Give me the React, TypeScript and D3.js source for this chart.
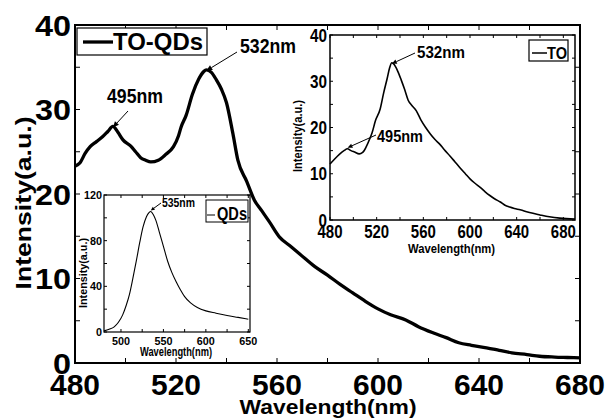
import React from "react";
import * as d3 from "d3";

// Main spectrum: TO-QDs
const mainWl = [480, 482, 484, 486, 488.5, 491, 493, 495, 497, 499, 502, 504, 506, 508, 510, 513, 516, 519, 521, 522, 524, 526.5, 529, 531, 532, 534, 536, 538, 540, 542.5, 544.5, 548, 551, 554, 557, 561, 565, 569, 575, 580, 585, 590, 595, 600, 605, 611, 616, 622, 627, 632, 637, 643, 648, 653, 659, 664, 670, 675, 680];
const mainVal = [23.3, 23.7, 24.8, 25.6, 26.2, 26.8, 27.4, 28.0, 27.3, 26.4, 25.7, 25.0, 24.3, 24.0, 23.8, 24.0, 24.7, 25.6, 26.9, 27.9, 29.3, 31.8, 33.6, 34.5, 34.7, 34.4, 33.5, 32.4, 30.8, 27.2, 24.0, 21.5, 19.3, 18.0, 16.7, 14.9, 13.9, 12.9, 11.4, 10.4, 9.3, 8.3, 7.3, 6.4, 5.7, 5.1, 4.3, 3.55, 3.0, 2.4, 2.1, 1.8, 1.5, 1.2, 1.0, 0.8, 0.7, 0.65, 0.6];

// Inset: TO
const toWl = [480, 484, 488, 492, 495, 498, 501, 505, 508, 511, 514, 516, 519, 523, 526, 529, 531, 533, 535, 538, 541, 544, 547, 550, 554, 558, 562, 566, 570, 574, 578, 583, 587, 591, 596, 600, 604, 609, 613, 617, 621, 626, 630, 634, 638, 643, 651, 660, 668, 677, 690];
const toVal = [12.1, 13.2, 14.2, 15.0, 15.4, 15.0, 14.7, 14.3, 14.6, 15.8, 17.5, 18.8, 21.5, 24.0, 27.5, 30.6, 32.8, 34.0, 33.6, 32.2, 30.3, 28.2, 25.9, 24.8, 23.6, 21.6, 20.0, 18.6, 17.4, 16.4, 15.2, 13.8, 12.6, 11.4, 10.0, 8.9, 8.0, 7.0, 6.1, 5.3, 4.6, 3.9, 3.2, 2.8, 2.5, 2.2, 1.6, 1.1, 0.7, 0.4, 0.2];

// Inset: QDs
const qdWl = [480, 486, 492, 497, 502, 506, 510, 514, 518, 522, 526, 530, 533, 535, 538, 541, 545, 550, 555, 560, 565, 570, 575, 582, 590, 600, 612, 625, 638, 650];
const qdVal = [1.0, 2.5, 4.5, 8.5, 15, 23, 33, 47, 62, 78, 92, 101, 104.5, 105.5, 103, 98, 88, 75, 62, 52, 44, 37, 31, 25.5, 21.5, 18.5, 16.5, 14.5, 12.8, 11.2];

const mainXTicks = [480, 520, 560, 600, 640, 680];
const mainYTicks = [0, 10, 20, 30, 40];
const toXTicks = [480, 520, 560, 600, 640, 680];
const toYTicks = [0, 10, 20, 30, 40];
const qdXTicks = [500, 550, 600, 650];
const qdYTicks = [0, 40, 80, 120];

const FONT = "'Liberation Sans', Arial, Helvetica, sans-serif";

type TProps = { x: number; y: number; size: number; w?: number; anchor?: string; rot?: boolean; children: string };
function T({ x, y, size, w, anchor = "start", rot = false, children }: TProps) {
  return (
    <text
      x={rot ? 0 : x}
      y={rot ? 0 : y}
      transform={rot ? `translate(${x},${y}) rotate(-90)` : undefined}
      fontFamily={FONT}
      fontWeight="bold"
      fontSize={size}
      textAnchor={anchor}
      textLength={w}
      lengthAdjust={w ? "spacingAndGlyphs" : undefined}
      fill="#000"
    >
      {children}
    </text>
  );
}

type Frame = {
  x: d3.ScaleLinear<number, number>;
  y: d3.ScaleLinear<number, number>;
  xMinor: number[];
  yMinor: number[];
  tick: number;
  sw: number;
};

function Box({ x, y, xMinor, yMinor, tick, sw }: Frame) {
  const [x0, x1] = x.range();
  const [y0, y1] = y.range(); // y0 bottom, y1 top
  return (
    <g stroke="#000" fill="none">
      <rect x={x0} y={y1} width={x1 - x0} height={y0 - y1} fill="#fff" stroke="#000" strokeWidth={sw} />
      {xMinor.map((v, i) => (
        <g key={"x" + i} strokeWidth={1}>
          <line x1={x(v)} x2={x(v)} y1={y0} y2={y0 - tick} />
          <line x1={x(v)} x2={x(v)} y1={y1} y2={y1 + tick} />
        </g>
      ))}
      {yMinor.map((v, i) => (
        <g key={"y" + i} strokeWidth={1}>
          <line x1={x0} x2={x0 + tick} y1={y(v)} y2={y(v)} />
          <line x1={x1} x2={x1 - tick} y1={y(v)} y2={y(v)} />
        </g>
      ))}
    </g>
  );
}

function range(a: number, b: number, s: number) {
  const r: number[] = [];
  for (let v = a; v <= b + 1e-9; v += s) r.push(v);
  return r;
}

export default function App() {
  // main
  const mx = d3.scaleLinear().domain([480, 680]).range([75, 580]);
  const my = d3.scaleLinear().domain([0, 40]).range([363, 25]);
  // inset TO
  const tx = d3.scaleLinear().domain([480, 690]).range([330, 575]);
  const ty = d3.scaleLinear().domain([0, 40]).range([220, 35]);
  // inset QDs
  const qx = d3.scaleLinear().domain([480, 652]).range([104, 250]);
  const qy = d3.scaleLinear().domain([0, 120]).range([332, 195]);

  const mainLine = d3.line<number>().x((d, i) => mx(mainWl[i])).y((d) => my(d)).curve(d3.curveMonotoneX);
  const toLine = d3.line<number>().x((d, i) => tx(toWl[i])).y((d) => ty(d)).curve(d3.curveMonotoneX);
  const qdLine = d3.line<number>().x((d, i) => qx(qdWl[i])).y((d) => qy(d)).curve(d3.curveMonotoneX);

  const arrow = (x1: number, y1: number, x2: number, y2: number, key: string, head = 6) => {
    const a = Math.atan2(y2 - y1, x2 - x1);
    const hw = head * 0.45;
    const bx = x2 - head * Math.cos(a);
    const by = y2 - head * Math.sin(a);
    const px = -Math.sin(a) * hw;
    const py = Math.cos(a) * hw;
    return (
      <g key={key}>
        <line x1={x1} y1={y1} x2={bx} y2={by} stroke="#000" strokeWidth={1} />
        <path d={`M${x2},${y2} L${bx + px},${by + py} L${bx - px},${by - py} Z`} fill="#000" />
      </g>
    );
  };

  return (
    <svg width={608} height={419} style={{ position: "absolute", left: 0, top: 0, background: "#fff" }}>
      <rect x={0} y={0} width={608} height={419} fill="#fff" />
      {/* Main frame */}
      <Box x={mx} y={my} xMinor={range(480, 680, 20)} yMinor={range(0, 40, 5)} tick={5} sw={2} />
      <path d={mainLine(mainVal) || ""} fill="none" stroke="#000" strokeWidth={3.3} strokeLinejoin="round" />

      {/* Main tick labels */}
      {mainXTicks.map((v) => (
        <T key={"mx" + v} x={mx(v)} y={395} size={30} anchor="middle" w={50}>{String(v)}</T>
      ))}
      {mainYTicks.map((v) => (
        <T key={"my" + v} x={71} y={my(v) + 10.5} size={30} anchor="end" w={String(v).length * 18}>{String(v)}</T>
      ))}
      <T x={328} y={414} size={21} anchor="middle" w={177}>Wavelength(nm)</T>
      <T x={31} y={203} size={22} anchor="middle" w={173} rot>Intensity(a.u.)</T>

      {/* Main legend */}
      <rect x={77} y={28} width={130} height={27} fill="#fff" stroke="#000" strokeWidth={1.2} />
      <line x1={83} x2={113} y1={42} y2={42} stroke="#000" strokeWidth={3.3} />
      <T x={113} y={50} size={24} w={90}>TO-QDs</T>

      {/* Main annotations */}
      <T x={240} y={53} size={21} w={56}>532nm</T>
      {arrow(237, 52, mx(532), my(34.7) + 1, "a1")}
      <T x={107} y={103} size={20} w={56}>495nm</T>
      {arrow(128, 111, mx(495), my(28.0) + 1, "a2")}

      {/* Inset TO */}
      <Box x={tx} y={ty} xMinor={range(480, 680, 20)} yMinor={range(0, 40, 5)} tick={3} sw={1.5} />
      <path d={toLine(toVal) || ""} fill="none" stroke="#000" strokeWidth={1.6} strokeLinejoin="round" />
      {toXTicks.map((v) => (
        <T key={"tx" + v} x={tx(v)} y={238} size={18} anchor="middle" w={25}>{String(v)}</T>
      ))}
      {toYTicks.map((v) => (
        <T key={"ty" + v} x={327} y={ty(v) + 6.5} size={18} anchor="end" w={String(v).length * 8.5}>{String(v)}</T>
      ))}
      <T x={451.5} y={253} size={13} anchor="middle" w={87}>Wavelength(nm)</T>
      <T x={302} y={136} size={13} anchor="middle" w={72} rot>Intensity(a.u.)</T>
      <rect x={529} y={40} width={39} height={21} fill="#fff" stroke="#000" strokeWidth={1.2} />
      <line x1={532} x2={547} y1={53} y2={53} stroke="#000" strokeWidth={1.5} />
      <T x={547} y={59} size={17} w={20}>TO</T>
      <T x={417} y={58} size={17} w={48}>532nm</T>
      {arrow(415, 53, tx(533), ty(34.0) + 1, "a3", 5)}
      <T x={377} y={142} size={17} w={46}>495nm</T>
      {arrow(376, 135, tx(495), ty(15.4) - 1, "a4", 5)}

      {/* Inset QDs */}
      <Box x={qx} y={qy} xMinor={range(500, 650, 25)} yMinor={range(0, 120, 20)} tick={3} sw={1.2} />
      <path d={qdLine(qdVal) || ""} fill="none" stroke="#000" strokeWidth={1.1} strokeLinejoin="round" />
      {qdXTicks.map((v) => (
        <T key={"qx" + v} x={qx(v)} y={345} size={11} anchor="middle" w={18}>{String(v)}</T>
      ))}
      {qdYTicks.map((v) => (
        <T key={"qy" + v} x={102} y={qy(v) + 4} size={11} anchor="end" w={String(v).length * 6}>{String(v)}</T>
      ))}
      <T x={176} y={356} size={12} anchor="middle" w={72}>Wavelength(nm)</T>
      <T x={87} y={273} size={11} anchor="middle" w={70} rot>Intensity(a.u.)</T>
      <rect x={206} y={200} width={42} height={22} fill="#fff" stroke="#000" strokeWidth={1} />
      <line x1={207} x2={215} y1={215} y2={215} stroke="#000" strokeWidth={1} />
      <T x={217} y={220} size={19} w={30}>QDs</T>
      <T x={162} y={207} size={12} w={33}>535nm</T>
      {arrow(161, 203, qx(535), qy(105.5) - 1, "a5", 4)}
    </svg>
  );
}
